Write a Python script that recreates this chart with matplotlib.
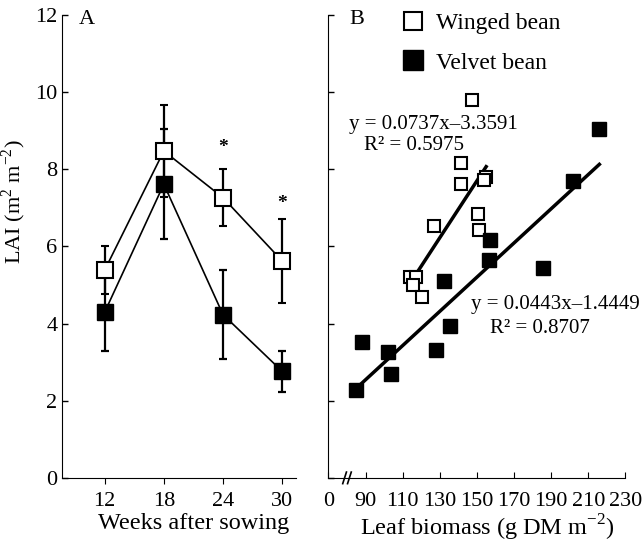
import matplotlib
matplotlib.use("Agg")
import matplotlib.pyplot as plt

plt.rcParams['font.family'] = ['Liberation Serif', 'DejaVu Serif']
plt.rcParams['mathtext.fontset'] = 'custom'
plt.rcParams['mathtext.rm'] = 'Liberation Serif'

# panel A: LAI over time
weeks = [12, 18, 24, 30]
winged_lai = [5.38, 8.47, 7.26, 5.62]
winged_err = [0.62, 1.2, 0.74, 1.1]
velvet_lai = [4.29, 7.61, 4.23, 2.76]
velvet_err = [1.0, 1.42, 1.15, 0.53]
signif_weeks = [24, 30]
signif_y = [8.57, 7.12]

# panel B: LAI vs leaf biomass
winged_bio = [147.3, 141.2, 141.2, 154.8, 154.0, 150.5, 150.9, 126.8, 114.2, 117.3, 115.5, 120.3]
winged_pts = [9.80, 8.15, 7.62, 7.80, 7.72, 6.83, 6.43, 6.52, 5.20, 5.21, 4.99, 4.69]
velvet_bio = [215.6, 201.7, 157.3, 156.8, 185.5, 132.5, 135.5, 88.1, 102.3, 128.0, 103.8, 84.9]
velvet_pts = [9.05, 7.69, 6.16, 5.65, 5.44, 5.09, 3.93, 3.53, 3.27, 3.31, 2.70, 2.28]

winged_fit = (0.0737, -3.3591, 115.5, 155.0)
velvet_fit = (0.0443, -1.4449, 85.0, 216.0)

xticks_b = [70, 90, 110, 130, 150, 170, 190, 210, 230]
xticklabels_b = ['0', '90', '110', '130', '150', '170', '190', '210', '230']

fig = plt.figure(figsize=(6.44, 5.48), dpi=100)
axA = fig.add_axes([0.097, 0.128, 0.363, 0.845])
axB = fig.add_axes([0.510, 0.128, 0.461, 0.845])

for ax in (axA, axB):
    ax.spines['top'].set_visible(False)
    ax.spines['right'].set_visible(False)
    ax.set_ylim(0, 12)
    ax.set_yticks(range(0, 13, 2))
    ax.tick_params(axis='y', direction='in', length=4, width=1, labelsize=16)

# --- A ---
axA.errorbar(weeks, velvet_lai, yerr=velvet_err, color='k', lw=1.2, elinewidth=1.6,
             capsize=3, capthick=1.6, marker='s', ms=12, mfc='k', mec='k', zorder=3)
axA.errorbar(weeks, winged_lai, yerr=winged_err, color='k', lw=1.2, elinewidth=1.6,
             capsize=3, capthick=1.6, marker='s', ms=12, mfc='white', mec='k', mew=1.5, zorder=4)
for xw, ys in zip(signif_weeks, signif_y):
    axA.text(xw, ys, '*', ha='center', va='center', fontsize=14, fontweight='bold')
axA.set_xlim(7.73, 31.42)
axA.set_xticks(weeks)
axA.tick_params(axis='x', direction='out', length=4, labelsize=16, pad=6)
axA.set_xlabel('Weeks after sowing', fontsize=17.5)
axA.xaxis.set_label_coords(0.56, -0.075)
axA.set_ylabel('LAI (m$^2$ m$^{-2}$)', fontsize=16)
axA.yaxis.set_label_coords(-0.148, 0.596)
axA.text(0.07, 0.989, 'A', transform=axA.transAxes, fontsize=16, va='center')

# --- B ---
axB.plot(winged_bio, winged_pts, 's', ms=9, mfc='white', mec='k', mew=1.5, ls='none',
         label='Winged bean', zorder=3)
axB.plot(velvet_bio, velvet_pts, 's', ms=10, mfc='k', mec='k', ls='none',
         label='Velvet bean', zorder=3)
for slope, icpt, x0, x1 in (winged_fit, velvet_fit):
    axB.plot([x0, x1], [slope * x0 + icpt, slope * x1 + icpt], color='k', lw=2.5, zorder=2)

axB.text(81.3, 9.17, 'y = 0.0737x\u20133.3591', fontsize=15, va='center')
axB.text(89.4, 8.60, 'R\u00b2 = 0.5975', fontsize=15, va='center')
axB.text(146.9, 4.50, 'y = 0.0443x\u20131.4449', fontsize=15, va='center')
axB.text(157.2, 3.87, 'R\u00b2 = 0.8707', fontsize=15, va='center')

axB.set_xlim(70, 230)
axB.set_xticks(xticks_b)
axB.set_xticklabels(xticklabels_b)
axB.set_yticklabels([])
axB.tick_params(axis='x', direction='in', length=4, labelsize=16, pad=10)
axB.set_xlabel('Leaf biomass (g DM m$^{-2}$)', fontsize=17.5)
axB.xaxis.set_label_coords(0.533, -0.075)
axB.text(0.07, 0.989, 'B', transform=axB.transAxes, fontsize=16, va='center')

# axis break marks
for off in (-1.3, 1.3):
    axB.plot([80 + off - 1.0, 80 + off + 1.0], [-0.15, 0.15], color='k', lw=1.2, clip_on=False)

leg = axB.legend(loc='upper left', bbox_to_anchor=(0.175, 1.05), frameon=False, fontsize=17,
                 handlelength=1.0, handletextpad=0.45, labelspacing=0.75, markerscale=1.5)

fig.savefig('out.png', dpi=100)
